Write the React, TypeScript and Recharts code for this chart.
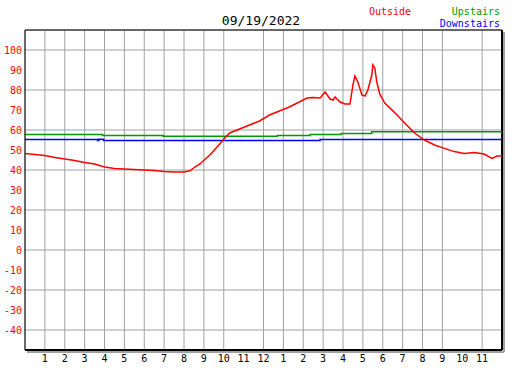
import { LineChart, Line, XAxis, YAxis, CartesianGrid, ReferenceLine } from 'recharts';

// time of day in hours (0 = midnight)
const outsideHours = [
  0, 0.5, 1, 1.5, 2, 2.5, 3, 3.5, 4, 4.5,
  5, 5.5, 6, 6.5, 7, 7.5, 8, 8.3, 8.55, 8.8,
  9.3, 9.8, 10.05, 10.3, 10.8, 11.3, 11.8, 12.3, 12.8, 13.3,
  13.8, 14.2, 14.5, 14.85, 15.1, 15.35, 15.5, 15.6, 15.85, 16.1,
  16.35, 16.5, 16.6, 16.75, 16.95, 17.1, 17.25, 17.45, 17.5, 17.6,
  17.7, 17.85, 18.1, 18.6, 19.1, 19.6, 20.1, 20.6, 21.1, 21.6,
  22.1, 22.6, 23.1, 23.5, 23.75, 24,
];
const outsideTemps = [
  48.2, 47.8, 47.2, 46.3, 45.5, 44.7, 43.7, 43, 41.5, 40.8,
  40.5, 40.3, 40, 39.8, 39.3, 39, 39, 39.6, 41.5, 43,
  47.5, 53, 56, 58.5, 60.5, 62.5, 64.5, 67.5, 69.5, 71.5,
  74, 76, 76.3, 76, 79, 75.5, 75, 76.5, 74, 73,
  73, 82.5, 87, 84, 77.5, 77, 80, 87.5, 92.5, 91,
  84, 78, 73.5, 68.7, 63.5, 58.5, 55, 52.5, 50.8, 49.2,
  48.3, 48.8, 48, 45.8, 47, 47,
];

const upstairsHours = [0, 3.9, 6.95, 12.7, 14.35, 15.9, 17.45, 24];
const upstairsTemps = [57.7, 57.3, 56.9, 57.3, 57.7, 58.3, 59.1, 59.1];

const downstairsHours = [0, 3.65, 3.72, 3.95, 14.85, 24];
const downstairsTemps = [55.2, 54.7, 55.4, 54.8, 55.3, 55.3];

const hourTicks = [1, 2, 3, 4, 5, 6, 7, 8, 9, 10, 11, 12, 13, 14, 15, 16, 17, 18, 19, 20, 21, 22, 23];
const tempTicks = [-40, -30, -20, -10, 0, 10, 20, 30, 40, 50, 60, 70, 80, 90, 100];

const title = '09/19/2022';

const toPoints = (hours: number[], temps: number[]) =>
  hours.map((h, i) => ({ h, t: temps[i] }));

const outsideData = toPoints(outsideHours, outsideTemps);
const upstairsData = toPoints(upstairsHours, upstairsTemps);
const downstairsData = toPoints(downstairsHours, downstairsTemps);

const FONT = '"DejaVu Sans Mono", monospace';

const hourLabel = (h: number) => String(((h - 1) % 12) + 1);

// frame edge with a small gray drop shadow
const shadowEdge = (dx: number, dy: number) => (p: any) => (
  <g>
    <line x1={p.x1 + dx} y1={p.y1 + dy} x2={p.x2 + dx} y2={p.y2 + dy} stroke="#a0a0a0" strokeWidth={2} />
    <line x1={p.x1} y1={p.y1} x2={p.x2} y2={p.y2} stroke="#000" strokeWidth={2} />
  </g>
);

export default function App() {
  return (
    <div style={{ position: 'absolute', left: 0, top: 0, width: 527, height: 370, background: '#fff' }}>
      <LineChart
        width={527}
        height={370}
        margin={{ top: 30, right: 25, bottom: 0, left: 0 }}
        style={{ fontFamily: FONT }}
      >
        <CartesianGrid stroke="#a0a0a0" strokeWidth={1} />
        <XAxis
          type="number"
          dataKey="h"
          domain={[0, 24]}
          ticks={hourTicks}
          tickFormatter={hourLabel}
          height={20}
          tickLine={false}
          tickSize={0}
          tickMargin={5}
          axisLine={false}
          tick={{ fill: '#000', fontSize: 10, fontFamily: FONT }}
          allowDataOverflow
        />
        <XAxis
          xAxisId="marks"
          type="number"
          dataKey="h"
          domain={[0, 24]}
          ticks={hourTicks}
          mirror
          tick={false}
          tickSize={5}
          tickLine={{ stroke: '#000' }}
          axisLine={false}
        />
        <XAxis
          xAxisId="top"
          orientation="top"
          type="number"
          dataKey="h"
          domain={[0, 24]}
          mirror
          tick={false}
          tickLine={false}
          axisLine={{ stroke: '#000' }}
        />
        <YAxis
          type="number"
          domain={[-50, 110]}
          ticks={tempTicks}
          width={25}
          tickLine={false}
          tickSize={0}
          tickMargin={3}
          axisLine={{ stroke: '#000' }}
          tick={{ fill: '#ff0000', fontSize: 10, fontFamily: FONT }}
          allowDataOverflow
        />
        <YAxis
          yAxisId="marks"
          type="number"
          domain={[-50, 110]}
          ticks={tempTicks}
          mirror
          tick={false}
          tickSize={5}
          tickLine={{ stroke: '#000' }}
          axisLine={false}
        />
        <ReferenceLine x={24} shape={shadowEdge(2, 2)} />
        <ReferenceLine y={-50} shape={shadowEdge(2, 2)} />
        <Line
          data={upstairsData}
          dataKey="t"
          type="stepAfter"
          stroke="#009900"
          strokeWidth={1.5}
          dot={false}
          isAnimationActive={false}
        />
        <Line
          data={downstairsData}
          dataKey="t"
          type="stepAfter"
          stroke="#0000ff"
          strokeWidth={1.5}
          dot={false}
          isAnimationActive={false}
        />
        <Line
          data={outsideData}
          dataKey="t"
          type="linear"
          stroke="#ff0000"
          strokeWidth={1.5}
          dot={false}
          isAnimationActive={false}
        />
      </LineChart>
      <svg
        width={527}
        height={370}
        style={{ position: 'absolute', left: 0, top: 0, pointerEvents: 'none', fontFamily: FONT }}
      >
        <text x={261} y={25} textAnchor="middle" fontSize={13} fill="#000">{title}</text>
        <text x={369} y={15} fontSize={10} fill="#ff0000">Outside</text>
        <text x={500} y={15} textAnchor="end" fontSize={10} fill="#009900">Upstairs</text>
        <text x={500} y={27} textAnchor="end" fontSize={10} fill="#0000ff">Downstairs</text>
      </svg>
    </div>
  );
}
